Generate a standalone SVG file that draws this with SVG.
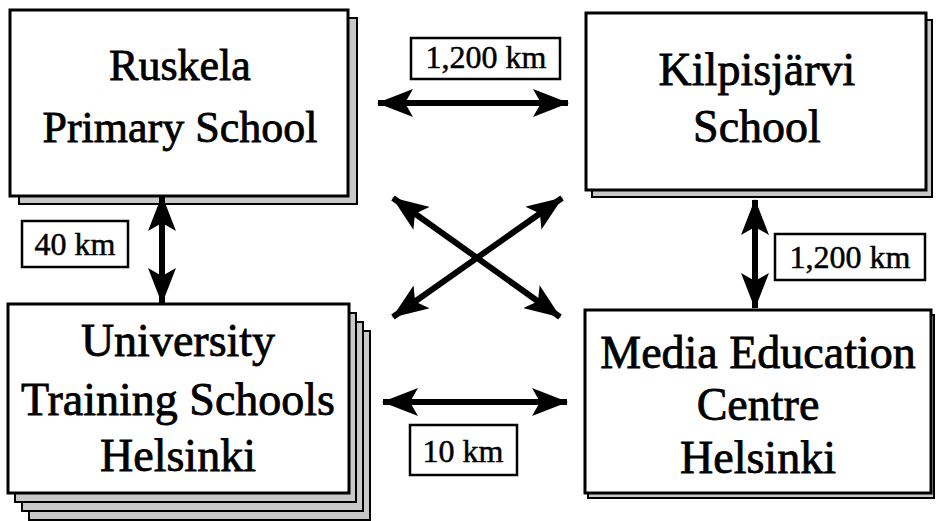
<svg xmlns="http://www.w3.org/2000/svg" width="936" height="521" viewBox="0 0 936 521">
<defs>
<style>
.box{fill:#fff;stroke:#000;stroke-width:3}
.shadow{fill:#c8c8c8;stroke:#000;stroke-width:2}
.lbl{fill:#fff;stroke:#000;stroke-width:2.5}
.t{font-size:46px;fill:#000;stroke:#000;stroke-width:0.8;text-anchor:middle}
.t44{font-size:44px}
.s{font-size:32px;fill:#000;stroke:#000;stroke-width:0.5;text-anchor:middle}
.arr{stroke:#000;stroke-width:6;fill:none;marker-start:url(#ah);marker-end:url(#ah)}
</style>
<marker id="ah" markerUnits="userSpaceOnUse" markerWidth="36" markerHeight="28" refX="35" refY="14" orient="auto-start-reverse" viewBox="0 0 36 28">
<path d="M0,0 L36,14 L0,28 L8,14 z" fill="#000"/>
</marker>
</defs>
<rect width="936" height="521" fill="#fff"/>

<g font-family="'Liberation Serif', Tinos, 'Times New Roman', Times, 'DejaVu Serif', serif">
<g id="ruskela">
<rect class="shadow" x="19" y="18" width="338" height="186"/>
<rect class="box" x="10" y="10" width="338" height="186"/>
<text class="t t44" x="180" y="80">Ruskela</text>
<text class="t t44" x="180" y="142">Primary School</text>
</g>

<g id="kilpisjarvi">
<rect class="shadow" x="592" y="20" width="340" height="177"/>
<rect class="box" x="586" y="13" width="340" height="177"/>
<text class="t" x="757" y="85">Kilpisjärvi</text>
<text class="t" x="757" y="142">School</text>
</g>

<g id="university">
<rect class="shadow" x="29" y="331" width="341" height="189"/>
<rect class="shadow" x="22" y="322" width="341" height="189"/>
<rect class="shadow" x="15" y="313" width="341" height="189"/>
<rect class="box" x="8" y="304" width="341" height="189"/>
<text class="t" x="178" y="356">University</text>
<text class="t" x="178" y="415">Training Schools</text>
<text class="t" x="178" y="471">Helsinki</text>
</g>

<g id="media">
<rect class="shadow" x="588" y="315" width="346" height="183"/>
<rect class="box" x="585" y="310" width="346" height="183"/>
<text class="t" x="758" y="368">Media Education</text>
<text class="t" x="758" y="420">Centre</text>
<text class="t" x="758" y="473">Helsinki</text>
</g>

<g id="connectors">
<line class="arr" x1="378" y1="103" x2="568" y2="103"/>
<line class="arr" x1="383" y1="402" x2="567" y2="402"/>
<line class="arr" x1="162" y1="196" x2="162" y2="303"/>
<line class="arr" x1="755" y1="200" x2="755" y2="308"/>
<line class="arr" x1="393" y1="198" x2="560" y2="317"/>
<line class="arr" x1="562" y1="198" x2="393" y2="317"/>
</g>

<g id="label-top">
<rect class="lbl" x="411" y="38" width="149" height="41"/>
<text class="s" x="486" y="68">1,200 km</text>
</g>
<g id="label-left">
<rect class="lbl" x="22" y="221" width="106" height="46"/>
<text class="s" x="75" y="255">40 km</text>
</g>
<g id="label-right">
<rect class="lbl" x="775" y="234" width="150" height="46"/>
<text class="s" x="850" y="268">1,200 km</text>
</g>
<g id="label-bottom">
<rect class="lbl" x="410" y="425" width="107" height="50"/>
<text class="s" x="463" y="462">10 km</text>
</g>
</g>
</svg>
